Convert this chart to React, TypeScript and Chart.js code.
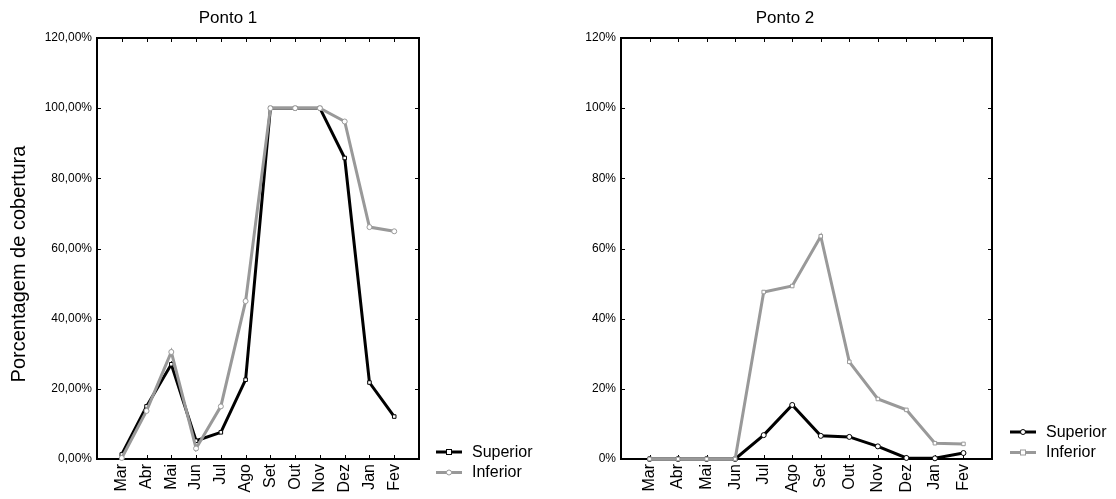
import React, { useEffect, useRef } from 'react';
import { Chart, registerables } from 'chart.js';

Chart.register(...registerables);

const months = ['Mar', 'Abr', 'Mai', 'Jun', 'Jul', 'Ago', 'Set', 'Out', 'Nov', 'Dez', 'Jan', 'Fev'];
const seriesNames = ['Superior', 'Inferior'];
const ponto1Superior = [1.3, 15.0, 27.0, 5.2, 7.6, 22.6, 100, 100, 100, 85.8, 21.8, 12.1];
const ponto1Inferior = [0.3, 13.7, 30.5, 3.0, 15.0, 45.0, 100, 100, 100, 96.2, 66.1, 64.9];
const ponto2Superior = [0, 0, 0, 0, 6.8, 15.4, 6.6, 6.3, 3.6, 0.3, 0.2, 1.7];
const ponto2Inferior = [0, 0, 0, 0, 47.6, 49.3, 63.5, 27.7, 17.1, 14.0, 4.5, 4.3];
const yTicks1 = ['0,00%', '20,00%', '40,00%', '60,00%', '80,00%', '100,00%', '120,00%'];
const yTicks2 = ['0%', '20%', '40%', '60%', '80%', '100%', '120%'];
const titles = ['Ponto 1', 'Ponto 2'];
const yAxisTitle = 'Porcentagem de cobertura';

const FONT = "'Liberation Sans', Arial, sans-serif";
const BLACK = '#000000';
const GRAY = '#999999';

type PanelCfg = {
  left: number;
  plotLeft: number;
  plotRight: number;
  title: string;
  titleX: number;
  yTicks: string[];
  superior: number[];
  inferior: number[];
  supStyle: string;
  infStyle: string;
  legendX: number;
  legendY: number;
  showYTitle: boolean;
};

const W = 558;
const H = 499;
const PLOT_TOP = 38;
const PLOT_BOTTOM = 459;

const decorPlugin = {
  id: 'decor',
  beforeDatasetsDraw(chart: any) {
    const { ctx, chartArea: a, scales } = chart;
    ctx.save();
    ctx.strokeStyle = '#000';
    ctx.lineWidth = 2;
    ctx.strokeRect(a.left, a.top, a.right - a.left, a.bottom - a.top);
    ctx.lineWidth = 1;
    const tl = 4;
    const seg = (x1: number, y1: number, x2: number, y2: number) => {
      ctx.beginPath();
      ctx.moveTo(x1, y1);
      ctx.lineTo(x2, y2);
      ctx.stroke();
    };
    scales.x.ticks.forEach((t: any) => {
      if (t.value < 1 || t.value > months.length) return;
      const px = Math.round(scales.x.getPixelForValue(t.value)) + 0.5;
      seg(px, a.bottom, px, a.bottom - tl);
      seg(px, a.top, px, a.top + tl);
    });
    scales.y.ticks.forEach((t: any) => {
      const py = Math.round(scales.y.getPixelForValue(t.value)) + 0.5;
      seg(a.left, py, a.left + tl, py);
      seg(a.right, py, a.right - tl, py);
    });
    ctx.restore();
  },
  afterDraw(chart: any, _args: any, opts: any) {
    const { ctx } = chart;
    const cfg: PanelCfg = opts.cfg;
    ctx.save();
    ctx.fillStyle = '#000';
    ctx.textBaseline = 'middle';
    ctx.textAlign = 'center';
    ctx.font = `17px ${FONT}`;
    ctx.fillText(cfg.title, cfg.titleX, 18);
    if (cfg.showYTitle) {
      ctx.save();
      ctx.translate(19, 264);
      ctx.rotate(-Math.PI / 2);
      ctx.font = `20px ${FONT}`;
      ctx.fillText(yAxisTitle, 0, 0);
      ctx.restore();
    }
    // legend
    chart.data.datasets.forEach((ds: any, i: number) => {
      const y = cfg.legendY + i * 20.5;
      const x0 = cfg.legendX;
      ctx.strokeStyle = ds.borderColor;
      ctx.lineWidth = 3;
      ctx.beginPath();
      ctx.moveTo(x0, y);
      ctx.lineTo(x0 + 26, y);
      ctx.stroke();
      ctx.lineWidth = 1;
      ctx.fillStyle = '#fff';
      if (ds.pointStyle === 'rect') {
        ctx.fillRect(x0 + 10.5, y - 2.5, 5, 5);
        ctx.strokeRect(x0 + 10.5, y - 2.5, 5, 5);
      } else {
        ctx.beginPath();
        ctx.arc(x0 + 13, y, 2.5, 0, Math.PI * 2);
        ctx.fill();
        ctx.stroke();
      }
      ctx.fillStyle = '#000';
      ctx.textAlign = 'left';
      ctx.font = `16px ${FONT}`;
      ctx.fillText(ds.label, x0 + 36, y + 0.5);
    });
    ctx.restore();
  },
};

function Panel({ cfg }: { cfg: PanelCfg }) {
  const ref = useRef<HTMLCanvasElement>(null);
  useEffect(() => {
    const mk = (label: string, vals: number[], color: string, style: string, order: number) => ({
      label,
      data: vals.map((y, i) => ({ x: i + 1, y })),
      borderColor: color,
      backgroundColor: '#ffffff',
      borderWidth: 3,
      pointStyle: style,
      pointRadius: 2.5,
      pointBorderWidth: 1,
      pointBorderColor: color,
      pointBackgroundColor: '#ffffff',
      tension: 0,
      clip: false,
      order,
    });
    const chart = new Chart(ref.current as HTMLCanvasElement, {
      type: 'line',
      data: {
        datasets: [
          mk(seriesNames[0], cfg.superior, BLACK, cfg.supStyle, 1),
          mk(seriesNames[1], cfg.inferior, GRAY, cfg.infStyle, 0),
        ],
      },
      options: {
        responsive: false,
        maintainAspectRatio: false,
        animation: false,
        layout: {
          padding: { left: 0, top: PLOT_TOP, right: W - cfg.plotRight, bottom: 0 },
        },
        plugins: {
          legend: { display: false },
          title: { display: false },
          tooltip: { enabled: false },
          decor: { cfg },
        } as any,
        scales: {
          x: {
            type: 'linear',
            min: 0,
            max: months.length + 1,
            grid: { display: false, drawTicks: false },
            border: { display: false },
            afterFit: (s: any) => {
              s.height = H - PLOT_BOTTOM;
            },
            ticks: {
              stepSize: 1,
              autoSkip: false,
              minRotation: 90,
              maxRotation: 90,
              padding: 5,
              color: '#000',
              font: { family: FONT, size: 16 },
              callback: (v: any) => {
                const n = Math.round(Number(v));
                return n >= 1 && n <= months.length ? months[n - 1] : '';
              },
            },
          },
          y: {
            type: 'linear',
            min: 0,
            max: 120,
            grid: { display: false, drawTicks: false },
            border: { display: false },
            afterFit: (s: any) => {
              s.width = cfg.plotLeft;
            },
            ticks: {
              stepSize: 20,
              padding: 5,
              color: '#000',
              font: { family: FONT, size: 12 },
              callback: (v: any) => cfg.yTicks[Math.round(Number(v) / 20)],
            },
          },
        },
      } as any,
      plugins: [decorPlugin],
    });
    return () => chart.destroy();
  }, []);
  return (
    <canvas
      ref={ref}
      width={W}
      height={H}
      style={{ position: 'absolute', left: cfg.left, top: 0, width: W, height: H }}
    />
  );
}

const panels: PanelCfg[] = [
  {
    left: 0,
    plotLeft: 97,
    plotRight: 419,
    title: titles[0],
    titleX: 228,
    yTicks: yTicks1,
    superior: ponto1Superior,
    inferior: ponto1Inferior,
    supStyle: 'rect',
    infStyle: 'circle',
    legendX: 436,
    legendY: 452,
    showYTitle: true,
  },
  {
    left: 558,
    plotLeft: 63,
    plotRight: 434,
    title: titles[1],
    titleX: 227,
    yTicks: yTicks2,
    superior: ponto2Superior,
    inferior: ponto2Inferior,
    supStyle: 'circle',
    infStyle: 'rect',
    legendX: 452,
    legendY: 432,
    showYTitle: false,
  },
];

export default function App() {
  return (
    <div style={{ position: 'absolute', left: 0, top: 0, width: 1116, height: 499, background: '#fff' }}>
      {panels.map((p, i) => (
        <Panel key={i} cfg={p} />
      ))}
    </div>
  );
}
